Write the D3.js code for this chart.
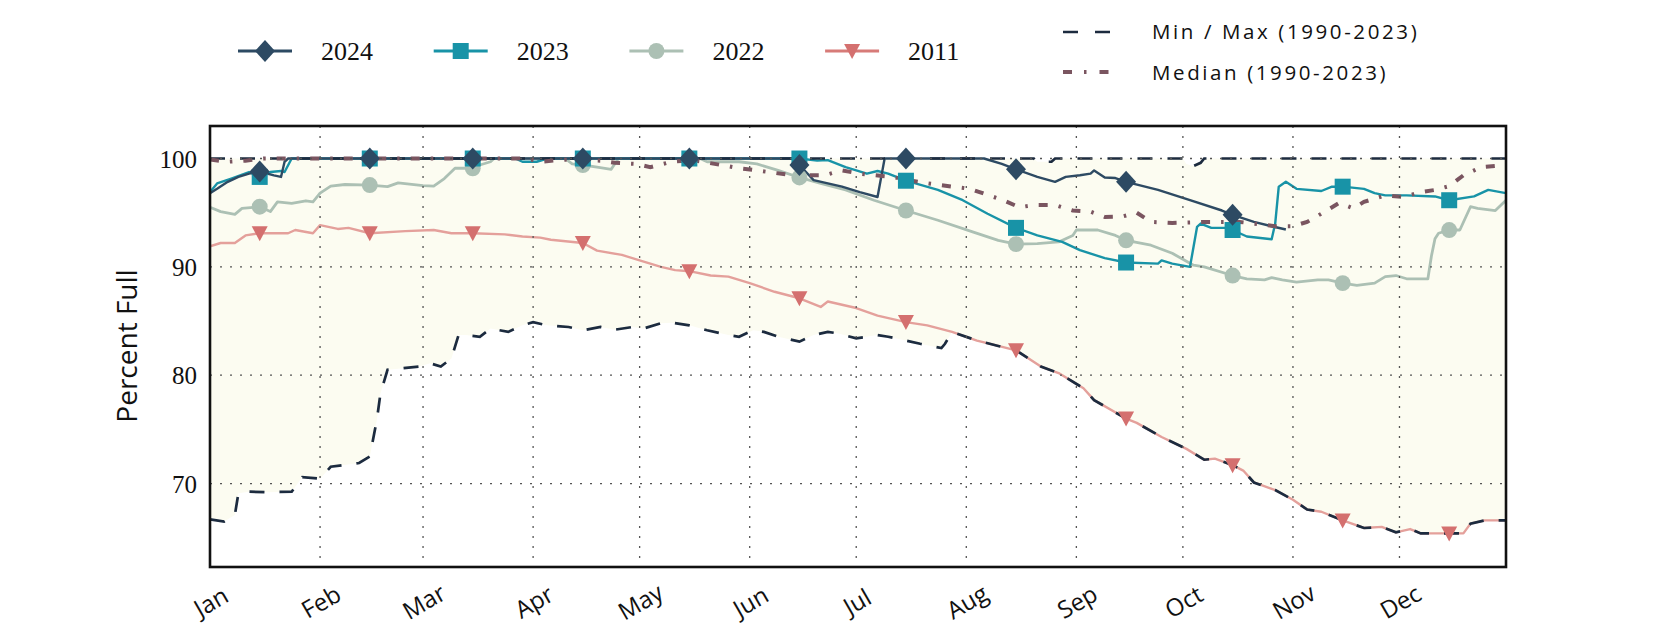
<!DOCTYPE html>
<html><head><meta charset="utf-8">
<script src="https://cdn.jsdelivr.net/npm/d3@7"></script>
<style>body{margin:0;background:#fff;} svg{display:block;}</style>
</head><body>
<svg id="chart" width="1680" height="630"></svg>
<script>
// ---------------- DATA ----------------
const monthLabels = ["Jan","Feb","Mar","Apr","May","Jun","Jul","Aug","Sep","Oct","Nov","Dec"];
const yTicks = [70, 80, 90, 100];
const seriesNames = ["2024", "2023", "2022", "2011"];
const minMaxLabel = "Min / Max (1990-2023)";
const medianLabel = "Median (1990-2023)";
const yLabel = "Percent Full";

const s2024 = [["01-01",96.8],["01-03",97.2],["01-06",97.85],["01-09",98.3],["01-12",98.6],["01-15",98.8],["01-19",98.45],["01-21",98.3],["01-22",99.7],["01-23",100],["02-15",100],["03-15",100],["04-15",100],["05-15",100],["06-14",100],["06-15",99.4],["06-19",98.0],["06-27",97.4],["07-02",96.9],["07-07",96.45],["07-09",100],["07-15",100],["08-06",100],["08-11",99.5],["08-15",99.0],["08-21",98.3],["08-26",97.85],["08-29",98.3],["09-02",98.45],["09-05",98.6],["09-06",98.9],["09-09",98.25],["09-12",98.2],["09-15",97.85],["09-24",97.1],["10-03",96.15],["10-12",95.2],["10-15",94.8],["10-21",94.15],["10-26",93.75],["10-30",93.45]];

const s2023 = [["01-01",96.9],["01-03",97.7],["01-07",98.15],["01-12",98.75],["01-15",98.3],["01-18",98.75],["01-21",98.85],["01-22",98.75],["01-24",100],["02-15",100],["03-15",100],["03-27",100],["03-29",99.7],["04-02",99.7],["04-05",100],["04-15",100],["05-15",100],["06-15",100],["06-20",99.8],["06-23",99.85],["06-28",99.2],["07-04",98.6],["07-07",98.85],["07-10",98.6],["07-15",97.95],["07-24",97.1],["07-31",96.15],["08-07",94.9],["08-15",93.6],["08-21",92.9],["08-28",92.3],["09-02",91.55],["09-09",90.8],["09-15",90.4],["09-24",90.3],["09-25",90.6],["09-28",90.3],["10-03",90.0],["10-05",93.7],["10-06",94.0],["10-09",93.6],["10-14",93.6],["10-15",93.4],["10-19",92.8],["10-26",92.55],["10-27",94.0],["10-28",97.4],["10-30",97.85],["11-02",97.2],["11-09",97.0],["11-12",97.4],["11-15",97.4],["11-21",97.2],["11-24",96.8],["11-27",96.6],["12-03",96.6],["12-11",96.5],["12-15",96.15],["12-22",96.5],["12-26",97.1],["12-31",96.8]];

const s2022 = [["01-01",95.5],["01-04",95.1],["01-08",94.85],["01-10",95.4],["01-15",95.55],["01-18",95.1],["01-20",96.0],["01-24",95.85],["01-28",96.1],["01-30",96.0],["02-01",96.8],["02-04",97.45],["02-08",97.6],["02-15",97.55],["02-20",97.4],["02-23",97.75],["03-01",97.5],["03-04",97.45],["03-07",98.15],["03-10",99.1],["03-15",99.1],["03-17",99.4],["03-20",99.7],["03-21",100],["04-10",100],["04-12",99.5],["04-15",99.4],["04-19",99.2],["04-23",99.0],["04-25",100],["05-15",100],["05-18",100],["05-20",99.7],["05-29",99.7],["06-03",99.5],["06-09",98.9],["06-15",98.25],["06-21",97.7],["06-28",97.1],["07-06",96.15],["07-15",95.2],["07-24",94.3],["08-03",93.2],["08-10",92.45],["08-15",92.1],["08-21",92.15],["08-27",92.3],["08-31",92.9],["09-01",93.4],["09-07",93.4],["09-12",92.9],["09-15",92.45],["09-22",92.0],["09-28",91.25],["10-04",90.15],["10-07",90.0],["10-15",89.2],["10-19",88.9],["10-24",88.8],["10-26",89.0],["10-29",88.8],["11-02",88.6],["11-08",88.8],["11-11",88.8],["11-15",88.5],["11-19",88.3],["11-24",88.5],["11-27",89.1],["11-30",89.2],["12-03",88.9],["12-09",88.9],["12-10",91.0],["12-11",92.6],["12-12",93.1],["12-15",93.4],["12-18",93.4],["12-21",95.55],["12-23",95.4],["12-28",95.2],["12-31",96.15]];

const s2011 = [["01-01",91.9],["01-04",92.2],["01-08",92.2],["01-11",92.9],["01-15",93.1],["01-23",93.1],["01-25",93.4],["01-30",93.1],["02-01",93.85],["02-06",93.5],["02-09",93.6],["02-15",93.1],["02-25",93.3],["03-04",93.4],["03-09",93.1],["03-15",93.1],["03-24",93.0],["03-29",92.8],["04-03",92.7],["04-06",92.5],["04-15",92.2],["04-19",91.5],["04-26",91.1],["05-01",90.6],["05-07",90.0],["05-11",89.7],["05-15",89.6],["05-21",89.2],["05-26",89.1],["06-01",88.5],["06-08",87.7],["06-15",87.1],["06-21",86.3],["06-23",86.8],["07-01",86.2],["07-07",85.5],["07-15",84.9],["07-21",84.6],["07-28",84.0],["08-04",83.2],["08-10",82.7],["08-15",82.3],["08-22",80.8],["08-27",80.2],["09-03",78.8],["09-06",77.7],["09-15",76.0],["09-18",75.6],["09-25",74.3],["10-02",73.2],["10-07",72.2],["10-10",72.3],["10-15",71.7],["10-18",71.2],["10-21",70.1],["10-27",69.4],["11-01",68.5],["11-05",67.6],["11-09",67.4],["11-15",66.6],["11-21",65.9],["11-26",66.0],["11-30",65.5],["12-04",65.8],["12-07",65.4],["12-15",65.4],["12-19",65.4],["12-21",66.3],["12-25",66.6],["12-31",66.6]];

const sMin = [["01-01",66.7],["01-05",66.5],["01-08",67.1],["01-09",69.1],["01-12",69.25],["01-17",69.2],["01-24",69.25],["01-27",70.6],["02-01",70.45],["02-04",71.55],["02-12",71.9],["02-15",72.5],["02-17",75.9],["02-18",78.3],["02-20",80.5],["02-23",80.6],["02-29",80.8],["03-03",81.1],["03-06",80.8],["03-09",81.55],["03-11",83.7],["03-13",83.7],["03-17",83.55],["03-20",84.3],["03-25",84.0],["03-29",84.6],["04-01",84.9],["04-05",84.6],["04-11",84.45],["04-15",84.15],["04-20",84.45],["04-24",84.2],["04-29",84.45],["05-02",84.3],["05-07",84.8],["05-10",84.85],["05-15",84.6],["05-20",84.15],["05-26",83.7],["05-29",83.55],["06-02",84.15],["06-05",84.0],["06-09",83.55],["06-15",83.1],["06-19",83.7],["06-23",84.0],["06-26",83.85],["07-01",83.4],["07-07",83.7],["07-10",83.55],["07-15",83.2],["07-19",82.9],["07-25",82.5],["07-26",82.9],["07-28",84.0],["08-04",83.2],["08-10",82.7],["08-15",82.3],["08-22",80.8],["08-27",80.2],["09-03",78.8],["09-06",77.7],["09-15",76.0],["09-18",75.6],["09-25",74.3],["10-02",73.2],["10-07",72.2],["10-10",72.3],["10-15",71.7],["10-18",71.2],["10-21",70.1],["10-27",69.4],["11-01",68.5],["11-05",67.6],["11-09",67.4],["11-15",66.6],["11-21",65.9],["11-26",66.0],["11-30",65.5],["12-04",65.8],["12-07",65.4],["12-15",65.4],["12-19",65.4],["12-21",66.3],["12-25",66.6],["12-31",66.6]];

const sMax = [["01-01",100],["08-20",100],["08-21",99.7],["08-25",99.7],["08-26",100],["10-01",100],["10-02",99.5],["10-04",99.3],["10-06",99.6],["10-07",100],["12-31",100]];

const sMedian = [["01-01",99.9],["01-06",99.7],["01-11",99.8],["01-16",100],["03-30",100],["04-03",99.7],["04-10",99.9],["04-20",99.8],["04-24",99.6],["04-30",99.5],["05-04",99.2],["05-10",99.7],["05-16",99.85],["05-24",99.4],["05-29",99.1],["06-03",98.9],["06-13",98.45],["06-22",98.45],["06-27",98.9],["07-02",98.6],["07-11",98.3],["07-20",97.75],["08-02",97.2],["08-11",96.2],["08-16",95.5],["08-20",95.7],["08-26",95.7],["08-31",95.2],["09-05",95.1],["09-09",94.6],["09-14",94.65],["09-18",95.0],["09-22",94.15],["09-28",94.05],["10-08",94.15],["10-17",94.15],["10-27",93.75],["11-01",93.75],["11-05",94.15],["11-10",95.1],["11-14",95.9],["11-18",95.4],["11-21",96.0],["11-27",96.6],["12-02",96.45],["12-07",96.9],["12-11",97.1],["12-15",97.45],["12-19",98.45],["12-24",99.2],["12-31",99.4]];

// ---------------- SETUP ----------------
const parse = d3.timeParse("%Y-%m-%d");
const toPts = arr => arr.map(([d, v]) => ({ date: parse("2024-" + d), v }));

const L = 210, R = 1506, T = 126, B = 567;
const x = d3.scaleTime().domain([parse("2024-01-01"), parse("2024-12-31")]).range([L, R]);
const y = d3.scaleLinear().domain([62.3, 103]).range([B, T]);

const svg = d3.select("#chart");
svg.append("defs").append("clipPath").attr("id", "clip")
  .append("rect").attr("x", L).attr("y", T).attr("width", R - L).attr("height", B - T);

const line = d3.line().x(d => x(d.date)).y(d => y(d.v));

const diamondPath = "M0,-11L10,0L0,11L-10,0Z";
const trianglePath = "M-8,-7L8,-7L0,8Z";
const style = {
  "2024": { color: "#2d4a63", marker: "#2d4a63", width: 2.4, shape: diamondPath },
  "2023": { color: "#1893a7", marker: "#1893a7", width: 2.4, shape: d3.symbol(d3.symbolSquare, 256)() },
  "2022": { color: "#acc0b4", marker: "#acc0b4", width: 2.8, shape: d3.symbol(d3.symbolCircle, 200)() },
  "2011": { color: "#e4a09b", marker: "#d4706f", width: 2.4, shape: trianglePath }
};
const seriesData = { "2024": toPts(s2024), "2023": toPts(s2023), "2022": toPts(s2022), "2011": toPts(s2011) };
const minPts = toPts(sMin), maxPts = toPts(sMax), medPts = toPts(sMedian);
const mmColor = "#1c2b3f", medColor = "#7a5560";

// ---------------- FILL ----------------
const plot = svg.append("g").attr("clip-path", "url(#clip)");
plot.append("path")
  .attr("d", line(maxPts.concat(minPts.slice().reverse())) + "Z")
  .attr("fill", "#fcfcf1").attr("stroke", "none");

// ---------------- GRID ----------------
const monthStarts = d3.timeMonth.range(parse("2024-01-01"), parse("2024-12-31"));
const grid = svg.append("g");
grid.selectAll("line.v").data(monthStarts.slice(1)).join("line")
  .attr("x1", d => x(d)).attr("x2", d => x(d)).attr("y1", T).attr("y2", B)
  .attr("stroke", "#555").attr("stroke-width", 1.3).attr("stroke-dasharray", "2,8");
grid.selectAll("line.h").data(yTicks).join("line")
  .attr("x1", L).attr("x2", R).attr("y1", d => y(d)).attr("y2", d => y(d))
  .attr("stroke", "#555").attr("stroke-width", 1.3).attr("stroke-dasharray", "2,8");

// ---------------- LINES ----------------
["2011", "2022", "2023", "2024"].forEach(k => {
  plot.append("path").attr("d", line(seriesData[k]))
    .attr("fill", "none").attr("stroke", style[k].color)
    .attr("stroke-width", style[k].width).attr("stroke-linejoin", "round");
});
[minPts, maxPts].forEach(p => {
  plot.append("path").attr("d", line(p)).attr("fill", "none")
    .attr("stroke", mmColor).attr("stroke-width", 2.7).attr("stroke-dasharray", "15,15");
});
plot.append("path").attr("d", line(medPts)).attr("fill", "none")
  .attr("stroke", medColor).attr("stroke-width", 4).attr("stroke-dasharray", "9,11,2.5,11");

// ---------------- MARKERS ----------------
["2011", "2022", "2023", "2024"].forEach(k => {
  svg.append("g").selectAll("path")
    .data(seriesData[k].filter(d => d.date.getDate() === 15)).join("path")
    .attr("transform", d => `translate(${x(d.date)},${y(d.v)})`)
    .attr("d", style[k].shape).attr("fill", style[k].marker);
});

// ---------------- AXES ----------------
const yAxis = svg.append("g").attr("transform", `translate(${L},0)`)
  .call(d3.axisLeft(y).tickValues(yTicks).tickSize(0).tickPadding(13));
yAxis.select(".domain").remove();
yAxis.selectAll("text").attr("font-family", "'Liberation Serif', serif")
  .attr("font-size", 25).attr("fill", "#111").attr("dy", null)
  .attr("dominant-baseline", "central");

const xAxis = svg.append("g").attr("transform", `translate(0,${B})`)
  .call(d3.axisBottom(x).tickValues(monthStarts).tickSize(0)
    .tickFormat(d => monthLabels[d.getMonth()]));
xAxis.select(".domain").remove();
xAxis.selectAll("text").attr("font-family", "'Open Sans', sans-serif")
  .attr("font-size", 24).attr("fill", "#111")
  .attr("y", 0).attr("dy", null).attr("dominant-baseline", "central")
  .attr("text-anchor", "middle").attr("transform", "translate(0,34) rotate(-30)");

svg.append("text").attr("transform", "translate(126,346) rotate(-90)")
  .attr("text-anchor", "middle").attr("dominant-baseline", "central")
  .attr("font-family", "'Open Sans', sans-serif").attr("font-size", 28).attr("fill", "#111")
  .text(yLabel);

// ---------------- FRAME ----------------
svg.append("rect").attr("x", L).attr("y", T).attr("width", R - L).attr("height", B - T)
  .attr("fill", "none").attr("stroke", "#111").attr("stroke-width", 2.6);

// ---------------- LEGEND ----------------
const lg = svg.append("g");
seriesNames.forEach((k, i) => {
  const cx = 265 + i * 195.7;
  const g = lg.append("g").attr("transform", `translate(${cx},51)`);
  g.append("line").attr("x1", -27).attr("x2", 27).attr("y1", 0).attr("y2", 0)
    .attr("stroke", k === "2011" ? "#d77b78" : style[k].color).attr("stroke-width", 2.8);
  g.append("path").attr("d", style[k].shape).attr("fill", style[k].marker);
  lg.append("text").attr("x", cx + 56).attr("y", 60)
    .attr("font-family", "'Liberation Serif', serif").attr("font-size", 26).attr("fill", "#111")
    .text(k);
});
lg.append("line").attr("x1", 1063).attr("x2", 1111).attr("y1", 32).attr("y2", 32)
  .attr("stroke", mmColor).attr("stroke-width", 2.7).attr("stroke-dasharray", "15,17");
lg.append("line").attr("x1", 1063).attr("x2", 1111).attr("y1", 72).attr("y2", 72)
  .attr("stroke", medColor).attr("stroke-width", 4).attr("stroke-dasharray", "9,12,2.5,13");
lg.append("text").attr("x", 1152).attr("y", 39).attr("font-family", "'Open Sans', sans-serif")
  .attr("font-size", 20.5).attr("letter-spacing", 2.6).attr("fill", "#111").text(minMaxLabel);
lg.append("text").attr("x", 1152).attr("y", 80).attr("font-family", "'Open Sans', sans-serif")
  .attr("font-size", 20.5).attr("letter-spacing", 2.6).attr("fill", "#111").text(medianLabel);
</script>
</body></html>
